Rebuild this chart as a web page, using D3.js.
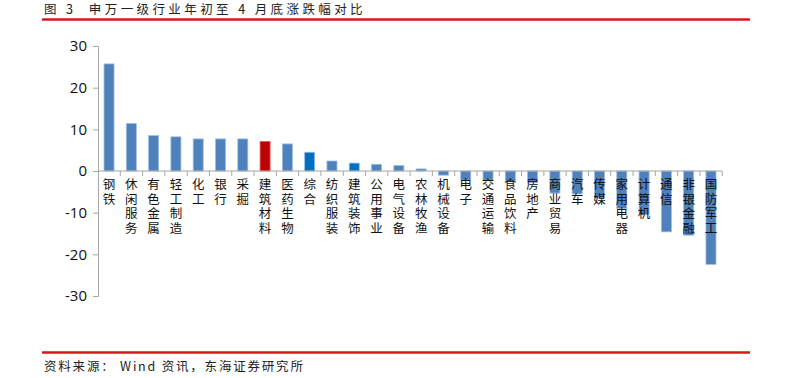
<!DOCTYPE html>
<html>
<head>
<meta charset="utf-8">
<script src="https://cdn.jsdelivr.net/npm/d3@7"></script>
<style>
  body { margin: 0; background: #fff; }
  svg { display: block; }
</style>
</head>
<body>
<svg id="chart"></svg>
<script>
// 行业
const industries = ['钢铁', '休闲服务', '有色金属', '轻工制造', '化工', '银行', '采掘', '建筑材料',
    '医药生物', '综合', '纺织服装', '建筑装饰', '公用事业', '电气设备', '农林牧渔', '机械设备',
    '电子', '交通运输', '食品饮料', '房地产', '商业贸易', '汽车', '传媒', '家用电器',
    '计算机', '通信', '非银金融', '国防军工'];
// 涨跌幅 (%)
const changes = [25.7, 11.4, 8.5, 8.2, 7.7, 7.7, 7.7, 7.1,
    6.5, 4.5, 2.4, 1.9, 1.6, 1.3, 0.5, -1.0,
    -2.2, -2.2, -2.5, -2.8, -5.3, -5.5, -6.5, -9.0,
    -10.5, -14.6, -15.4, -22.4];
const yTicks = [30, 20, 10, 0, -10, -20, -30];
const redOnes = ['建筑材料'];
const darkOnes = ['综合', '建筑装饰'];

const width = 797, height = 378;
const svg = d3.select('#chart').attr('width', width).attr('height', height);

const cjk = '"Noto Sans CJK SC", "Noto Sans", sans-serif';

// 标题
svg.append('text')
    .attr('x', 44).attr('y', 14)
    .style('font-family', cjk)
    .style('font-size', '12.5px')
    .style('letter-spacing', '3.4px')
    .style('white-space', 'pre')
    .attr('fill', '#222')
    .text('图 3  申万一级行业年初至 4 月底涨跌幅对比');

svg.append('line')
    .attr('x1', 42).attr('x2', 750).attr('y1', 19.5).attr('y2', 19.5)
    .attr('stroke', '#d7191c').attr('stroke-width', 2.5);

svg.append('line')
    .attr('x1', 42).attr('x2', 750).attr('y1', 352.5).attr('y2', 352.5)
    .attr('stroke', '#d7191c').attr('stroke-width', 2.5);

svg.append('text')
    .attr('x', 44).attr('y', 371)
    .style('font-family', cjk)
    .style('font-size', '12.5px')
    .style('letter-spacing', '1.8px')
    .style('white-space', 'pre')
    .attr('fill', '#222')
    .text('资料来源： Wind 资讯，东海证券研究所');

// 比例尺
const x = d3.scaleBand().domain(industries).range([98, 722]).paddingInner(0.55).paddingOuter(0.27);
const y = d3.scaleLinear().domain([-30, 30]).range([296, 46]);

// y轴
const yAxis = svg.append('g')
    .attr('transform', 'translate(98,0)')
    .call(d3.axisLeft(y).tickValues(yTicks).tickSize(5).tickPadding(6).tickFormat(d => String(d)));
yAxis.select('.domain').attr('stroke', '#a6a6a6');
yAxis.selectAll('.tick line').attr('stroke', '#a6a6a6');
yAxis.selectAll('.tick text')
    .style('font-family', '"Open Sans", "Liberation Sans", sans-serif')
    .style('font-size', '15px')
    .attr('fill', '#111');

// 柱子
svg.append('g').selectAll('rect')
    .data(industries)
    .enter().append('rect')
    .attr('x', d => x(d))
    .attr('width', x.bandwidth())
    .attr('y', (d, i) => y(Math.max(0, changes[i])))
    .attr('height', (d, i) => Math.abs(y(changes[i]) - y(0)))
    .attr('fill', d => redOnes.includes(d) ? '#c00000' : darkOnes.includes(d) ? '#0070c0' : '#4f81bd')
    .attr('stroke', d => redOnes.includes(d) ? '#e06060' : '#9dbde0')
    .attr('stroke-width', 0.8);

// x轴 (零线)
const step = x.step();
const xg = svg.append('g');
xg.append('line')
    .attr('x1', 98).attr('x2', 722).attr('y1', y(0)).attr('y2', y(0))
    .attr('stroke', '#a6a6a6');
xg.selectAll('.xtick')
    .data(d3.range(1, industries.length + 1))
    .enter().append('line')
    .attr('x1', d => 98 + d * step).attr('x2', d => 98 + d * step)
    .attr('y1', y(0)).attr('y2', y(0) + 5)
    .attr('stroke', '#a6a6a6');

// 竖排标签, 每个字单独一个 text
const chars = industries.flatMap(name => name.split('').map((c, k) => ({c, k, name})));
svg.append('g').selectAll('text')
    .data(chars)
    .enter().append('text')
    .attr('text-anchor', 'middle')
    .attr('x', d => x(d.name) + x.bandwidth() / 2)
    .attr('y', d => y(0) + 18 + d.k * 14.5)
    .style('font-family', cjk)
    .style('font-size', '12.5px')
    .attr('fill', '#111')
    .text(d => d.c);
</script>
</body>
</html>
